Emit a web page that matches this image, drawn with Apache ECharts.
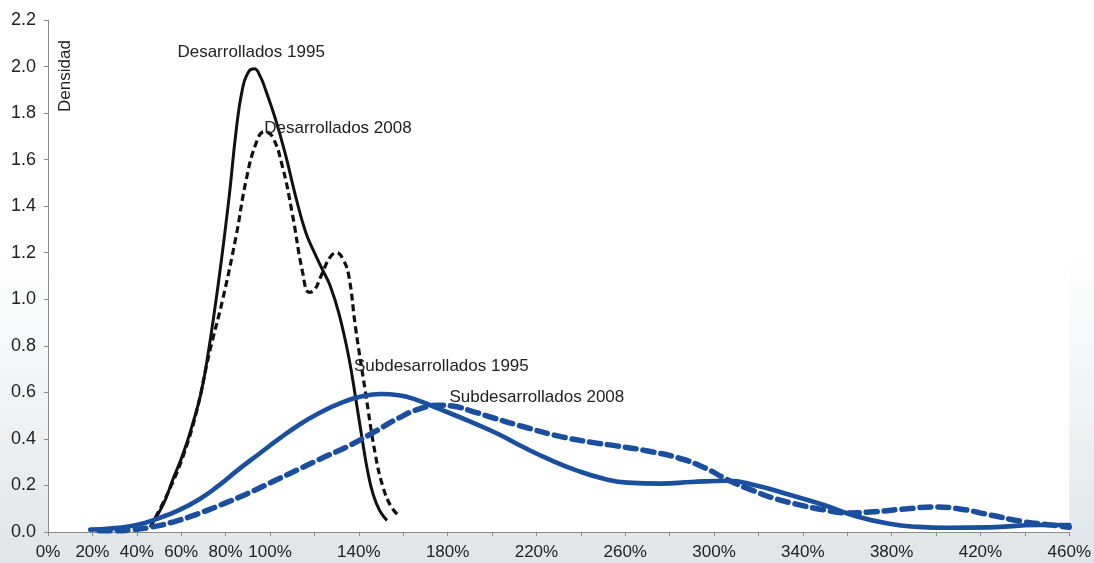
<!DOCTYPE html>
<html>
<head>
<meta charset="utf-8">
<script src="https://cdn.jsdelivr.net/npm/echarts@6/dist/echarts.min.js"></script>
<style>
  html, body { margin: 0; padding: 0; }
  #chart { width: 1094px; height: 563px; }
</style>
</head>
<body>
<div id="chart"></div>
<script>
// Kernel density estimates: [x (%), density]
const dev1995 = [[47,0.04],[52,0.12],[56,0.22],[61,0.34],[65,0.46],[69,0.6],[72,0.76],[75,0.95],[78,1.16],[81.7,1.45],[84.7,1.72],[87.5,1.9],[90.5,1.98],[93,1.99],[95.5,1.96],[98,1.9],[102.6,1.77],[107,1.62],[111.6,1.44],[116,1.29],[120,1.2],[124,1.12],[127,1.06],[131,0.94],[135.5,0.75],[138.5,0.58],[141.5,0.40],[144,0.26],[146.5,0.16],[149.5,0.09],[152.7,0.05]];
const dev2008 = [[46,0.02],[51,0.11],[56,0.21],[61,0.33],[66.7,0.51],[72.7,0.77],[78.7,1.00],[84.7,1.27],[89.2,1.51],[93.7,1.67],[97.4,1.72],[101,1.70],[105.6,1.57],[110,1.37],[114.6,1.12],[117.6,1.03],[120,1.04],[123,1.10],[127,1.18],[130,1.20],[133,1.17],[135.5,1.10],[138.5,0.88],[143,0.60],[147.5,0.33],[151,0.19],[154.5,0.11],[158,0.07]];
const sub1995 = [[19,0.01],[28,0.015],[37,0.025],[44,0.04],[50,0.06],[58,0.09],[68,0.14],[77,0.2],[86,0.27],[95,0.335],[104,0.40],[113,0.46],[122,0.51],[132,0.555],[141,0.582],[150,0.593],[158,0.588],[166,0.568],[176,0.53],[190,0.475],[203,0.42],[214,0.365],[225,0.315],[238,0.265],[250,0.23],[261,0.212],[276,0.208],[290,0.215],[306,0.22],[319,0.2],[334,0.16],[349.5,0.116],[364,0.068],[379,0.035],[392,0.022],[405,0.018],[424,0.02],[446,0.03],[460,0.03]];
const sub2008 = [[23,0.005],[30,0.005],[38,0.01],[46,0.02],[57,0.045],[68,0.08],[80,0.125],[91,0.17],[102,0.22],[113,0.27],[124,0.32],[135.5,0.37],[147,0.43],[158,0.49],[167,0.528],[176,0.545],[183,0.54],[190,0.522],[200,0.492],[215,0.45],[231,0.41],[245,0.385],[256,0.37],[269,0.35],[284,0.318],[296,0.275],[306,0.225],[317,0.18],[327,0.145],[337,0.12],[349.5,0.095],[360,0.082],[372,0.087],[387,0.1],[399,0.107],[410,0.1],[424,0.074],[439,0.045],[452,0.03],[460,0.02]];

// Series names and where their captions sit (data units)
const seriesNames = ['Desarrollados 1995', 'Desarrollados 2008', 'Subdesarrollados 1995', 'Subdesarrollados 2008'];
const captionAt = [[58.3, 2.063], [97.4, 1.736], [137.8, 0.713], [180.8, 0.58]];

// Axis ranges and label rules
const xMin = 0, xMax = 460, xStep = 20;
const yMin = 0, yMax = 2.2, yStep = 0.2;
const xLabelShown = v => v <= 100 || (v - 100) % 40 === 0;

const TEXT = '#222';
const FONT = '"Liberation Sans", Arial, sans-serif';
const BLACK = '#111';
const BLUE = '#1a4f9f';

function caption(i) {
  return {
    silent: true,
    symbol: 'circle',
    symbolSize: 0,
    data: [{ coord: captionAt[i] }],
    label: {
      show: true,
      position: 'inside',
      align: 'left',
      verticalAlign: 'middle',
      formatter: seriesNames[i],
      color: TEXT,
      fontFamily: FONT,
      fontSize: 17
    }
  };
}

const chart = echarts.init(document.getElementById('chart'), null, { renderer: 'canvas' });
chart.setOption({
  animation: false,
  backgroundColor: {
    type: 'linear', x: 0, y: 0, x2: 0, y2: 1,
    colorStops: [
      { offset: 0, color: '#ffffff' },
      { offset: 0.45, color: '#ffffff' },
      { offset: 1, color: '#e1e5e8' }
    ]
  },
  grid: {
    left: 48, right: 21, top: 20, bottom: 31,
    show: true, backgroundColor: '#ffffff', borderWidth: 0
  },
  xAxis: {
    type: 'value', min: xMin, max: xMax, interval: xStep,
    axisLine: { show: true, onZero: false, lineStyle: { color: '#8c8c8c', width: 1 } },
    axisTick: { show: true, length: 4, lineStyle: { color: '#8c8c8c' } },
    splitLine: { show: false },
    axisLabel: {
      color: TEXT, fontFamily: FONT, fontSize: 17, margin: 12,
      showMinLabel: true, showMaxLabel: true, hideOverlap: false,
      formatter: v => xLabelShown(v) ? v + '%' : ''
    }
  },
  yAxis: {
    type: 'value', min: yMin, max: yMax, interval: yStep,
    axisLine: { show: true, lineStyle: { color: '#8c8c8c', width: 1 } },
    axisTick: { show: true, length: 4, lineStyle: { color: '#8c8c8c' } },
    splitLine: { show: false },
    axisLabel: {
      color: TEXT, fontFamily: FONT, fontSize: 18, margin: 12,
      formatter: v => v.toFixed(1)
    }
  },
  graphic: [{
    type: 'text', x: 65, y: 76, rotation: Math.PI / 2,
    style: {
      text: 'Densidad', fill: TEXT, font: '17px ' + FONT,
      textAlign: 'center', textVerticalAlign: 'middle'
    }
  }],
  series: [
    {
      name: seriesNames[0], type: 'line', data: dev1995, smooth: 0.45, showSymbol: false,
      lineStyle: { color: BLACK, width: 3 }, markPoint: caption(0), z: 2
    },
    {
      name: seriesNames[1], type: 'line', data: dev2008, smooth: 0.45, showSymbol: false,
      lineStyle: { color: BLACK, width: 3.2, type: [7, 4] }, markPoint: caption(1), z: 2
    },
    {
      name: seriesNames[2], type: 'line', data: sub1995, smooth: 0.5, showSymbol: false,
      lineStyle: { color: BLUE, width: 4.6, cap: 'round' }, markPoint: caption(2), z: 3
    },
    {
      name: seriesNames[3], type: 'line', data: sub2008, smooth: 0.5, showSymbol: false,
      lineStyle: { color: BLUE, width: 5.5, type: [11, 7], cap: 'round' }, markPoint: caption(3), z: 3
    }
  ]
});
</script>
</body>
</html>
